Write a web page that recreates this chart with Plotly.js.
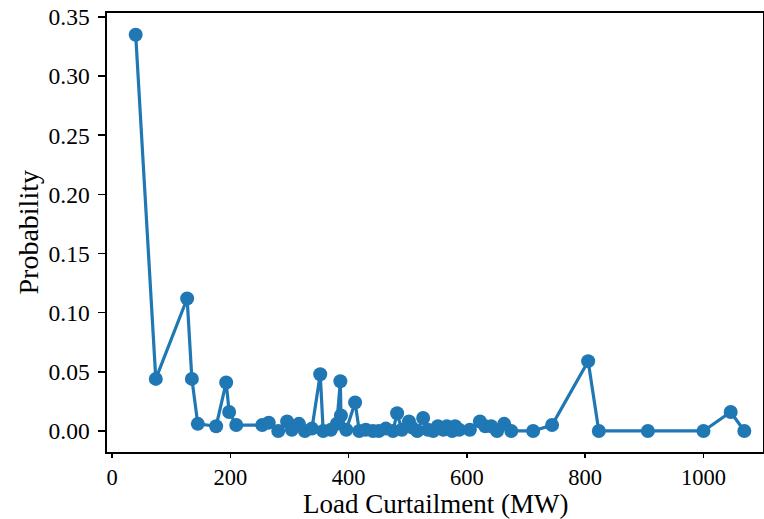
<!DOCTYPE html>
<html>
<head>
<meta charset="utf-8">
<script src="https://cdn.plot.ly/plotly-3.0.1.min.js"></script>
<style>html,body{margin:0;padding:0;background:#fff;}#chart{width:764px;height:519px;}</style>
</head>
<body>
<div id="chart"></div>
<script>
const curtailmentMW = [40, 74, 127, 135, 145, 176, 193, 198, 210, 254, 265, 281, 296, 304, 316, 326, 338, 352, 357, 370, 380, 386, 387, 396, 411, 418, 429, 441, 451, 463, 475, 482, 490, 502, 507, 516, 526, 534, 543, 551, 560, 566, 575, 580, 587, 605, 622, 631, 641, 651, 663, 675, 712, 744, 805, 823, 906, 1000, 1046, 1069];
const probability = [0.335, 0.044, 0.112, 0.044, 0.006, 0.004, 0.041, 0.016, 0.005, 0.005, 0.007, 0.000, 0.008, 0.001, 0.006, 0.000, 0.002, 0.048, 0.000, 0.001, 0.006, 0.042, 0.013, 0.001, 0.024, 0.000, 0.001, 0.000, 0.000, 0.002, 0.000, 0.015, 0.001, 0.008, 0.003, 0.000, 0.011, 0.001, 0.000, 0.004, 0.001, 0.004, 0.000, 0.004, 0.001, 0.001, 0.008, 0.004, 0.004, 0.000, 0.006, 0.000, 0.000, 0.005, 0.059, 0.000, 0.000, 0.000, 0.016, 0.000];
const xTicks = [0, 200, 400, 600, 800, 1000];
const yTicks = [0.00, 0.05, 0.10, 0.15, 0.20, 0.25, 0.30, 0.35];
const xTitle = 'Load Curtailment (MW)';
const yTitle = 'Probability';

const fam = 'Liberation Serif';
const trace = {
  x: curtailmentMW, y: probability, type: 'scatter', mode: 'lines+markers',
  line: {color: '#1f77b4', width: 3.2},
  marker: {color: '#1f77b4', size: 14}
};
const layout = {
  width: 764, height: 519,
  margin: {l: 107, r: 1, t: 13, b: 67},
  paper_bgcolor: '#fff', plot_bgcolor: '#fff',
  showlegend: false,
  font: {family: fam, size: 23, color: '#000'},
  xaxis: {
    range: [-8.5, 1100.6], tickvals: xTicks, ticktext: xTicks.map(String),
    showgrid: false, zeroline: false, showline: true, mirror: true, linecolor: '#000', linewidth: 1.6,
    ticks: 'outside', ticklen: 4, tickcolor: '#000', tickwidth: 1.6,
    tickfont: {family: fam, size: 22.5, color: '#000'}
  },
  yaxis: {
    range: [-0.0178, 0.3534], tickvals: yTicks, ticktext: yTicks.map(v => v.toFixed(2)),
    showgrid: false, zeroline: false, showline: true, mirror: true, linecolor: '#000', linewidth: 1.6,
    ticks: 'outside', ticklen: 7, tickcolor: '#000', tickwidth: 1.6, ticklabelstandoff: 4,
    tickfont: {family: fam, size: 23.5, color: '#000'}
  },
  annotations: [{
    text: xTitle, xref: 'paper', yref: 'paper', x: 0.5, y: 0,
    xanchor: 'center', yanchor: 'top', yshift: -35, showarrow: false,
    font: {family: fam, size: 27, color: '#000'}
  }, {
    text: yTitle, xref: 'paper', yref: 'paper', x: 0, y: 0.5,
    xanchor: 'center', yanchor: 'middle', xshift: -79, textangle: -90, showarrow: false,
    font: {family: fam, size: 28, color: '#000'}
  }]
};
Plotly.newPlot('chart', [trace], layout, {displayModeBar: false, staticPlot: true});
</script>
</body>
</html>
